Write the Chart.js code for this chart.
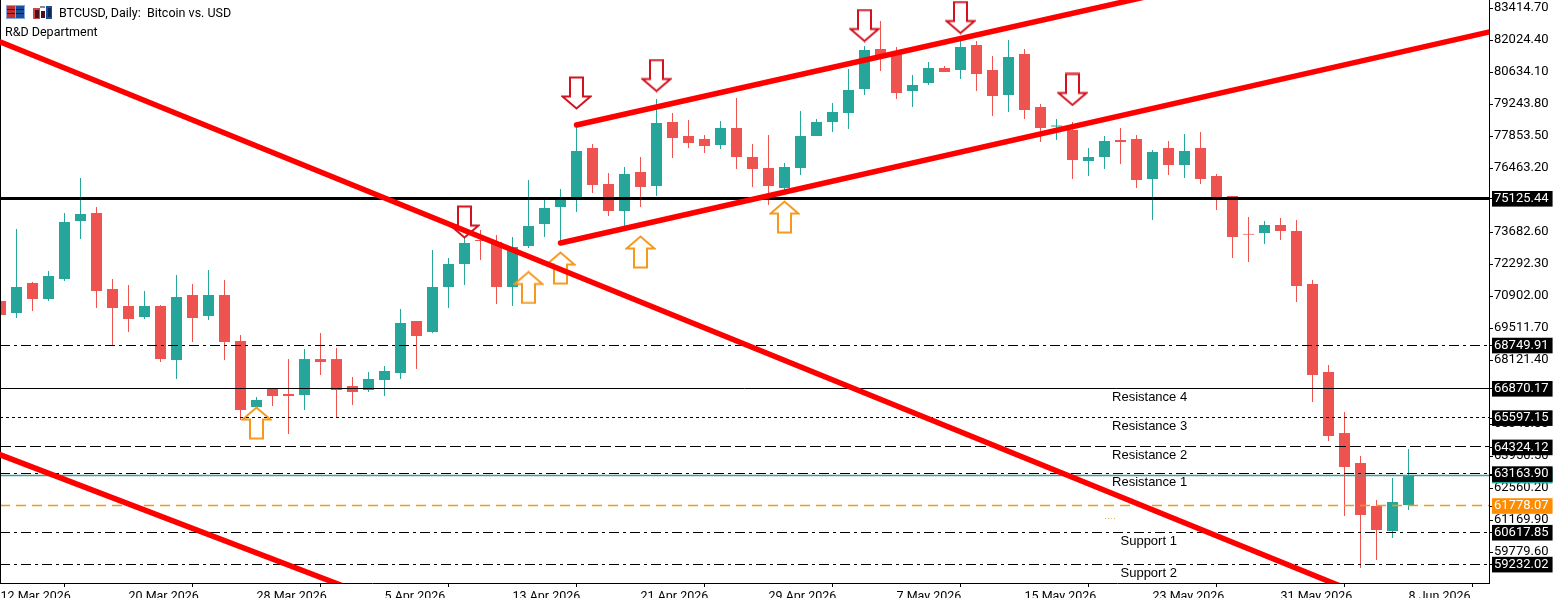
<!DOCTYPE html>
<html>
<head>
<meta charset="utf-8">
<title>BTCUSD, Daily</title>
<script src="https://cdn.jsdelivr.net/npm/chart.js@4/dist/chart.umd.js"></script>
<style>
  html, body { margin: 0; padding: 0; background: #fff; overflow: hidden; }
  canvas { display: block; }
</style>
</head>
<body>
<canvas id="myChart" width="1560" height="598"></canvas>
<script>
// daily candles, one entry per day starting 12 Mar 2026
const opens = [70684,70163,71467,70771,71640,74161,74508,71206,70467,69989,70467,68121,70945,70033,70945,68947,66079,66861,66644,66600,68164,68164,66991,66818,67252,67556,69816,69338,71293,72292,73335,73248,71293,73074,74031,74769,75203,77332,75768,74595,76289,75681,78462,77854,77723,77463,78201,76941,76463,75594,76463,77854,78462,78853,79896,81633,81503,79809,80156,80808,80721,81807,80721,79635,81416,79114,78266,78114,76767,76941,77680,77723,75985,77332,76594,77332,76116,75247,73600,73639,73987,73726,71423,67600,64949,63646,61778,60692,61821];
const closes = [70076,71293,70771,71771,74117,74465,71119,70380,69902,70467,68164,70858,69946,70945,68903,65949,66383,66557,66557,68164,68034,66818,66731,67296,67643,69729,69164,71293,72292,73205,73292,71293,73031,73944,74725,75073,77202,75725,74595,76203,75638,78418,77767,77549,77419,78201,76941,76420,75681,76507,77854,78462,78896,79852,81590,81286,79722,80069,80808,80634,81720,80547,79592,81286,78983,78201,78310,76811,76941,77636,77593,75942,77158,76594,77202,75985,75160,73466,73570,73987,73726,71336,67469,64819,63472,61387,60735,61952,63125];
const highs = [70815,73813,71510,71988,74508,76029,74769,71640,71380,71119,70511,71814,71423,72031,71597,69207,66514,66861,68164,68599,69294,68642,67382,67600,67860,70337,69816,72901,72553,73422,73770,73552,73466,75942,75073,75551,78331,77506,76246,76507,76941,79461,78853,78549,77897,78505,79505,77506,77897,76681,78940,78592,79287,80765,81764,82850,81720,80504,81068,80895,82111,81981,81329,82024,81633,79244,78592,78462,77332,77854,78201,77897,77245,77636,77941,78027,76203,75247,74334,74161,74291,74204,71597,67904,65862,63950,62038,62994,64254];
const lows = [70033,69946,70250,70684,71554,73379,70380,68773,69338,69902,68034,67296,68903,69859,68121,65514,66036,66122,64906,65949,67469,65645,66166,66731,66557,67296,67730,69294,70380,71380,72466,70554,70467,72987,73466,73205,74552,75377,74378,73900,74769,75247,76898,77332,77115,77289,76420,75638,74856,75421,76159,77854,78027,78158,79635,80678,79461,79114,80069,80634,80330,79809,78722,78896,78592,77593,77680,75985,76116,76420,76637,75594,74204,76159,76029,75768,74639,72553,72379,73161,73335,70641,66296,64602,61343,59084,59432,60388,61604];

const xTickBars = [0,8,16,24,32,40,48,56,64,72,80,88];
const xTickLabels = ["12 Mar 2026","20 Mar 2026","28 Mar 2026","5 Apr 2026","13 Apr 2026","21 Apr 2026","29 Apr 2026","7 May 2026","15 May 2026","23 May 2026","31 May 2026","8 Jun 2026"];
const yTickValues = [83414.70,82024.40,80634.10,79243.80,77853.50,76463.20,73682.60,72292.30,70902.00,69511.70,68121.40,65340.80,63950.50,62560.20,61169.90,59779.60];

// horizontal levels, with a price box on the axis
const levelPrices = [75125.44,68749.91,66870.17,65597.15,64324.12,63163.90,61778.07,60617.85,59232.02];
const lastPrice = 63100;

// trend lines as [bar, price, bar, price]
const trendA = [0,81937,84,58228];
const trendB = [0,63998,24,57615];
const channelTop = [36,78331,72,83966];
const channelBottom = [35,73205,94,82525];

const upArrowBars = [16,33,35,40,49];
const upArrowPrices = [65384,71272,72118,72814,74334];
const downArrowBars = [29,36,41,54,60,67];
const downArrowPrices = [74117,79722,80482,82654,83002,79874];

const noteTexts = ["Resistance 4","Resistance 3","Resistance 2","Resistance 1","Support 1","Support 2"];
const noteBars = [69.47,69.47,69.47,69.47,70,70];
const notePrices = [66514,65254,63995,62821,60258,58867];

const upColor = "#26a69a";
const downColor = "#ef5350";
const levelStyles = [
    {color: "#000", width: 3, dash: []},
    {color: "#000", width: 1, dash: [10,4,3,4]},
    {color: "#000", width: 1, dash: []},
    {color: "#000", width: 1, dash: [3,3]},
    {color: "#000", width: 1, dash: [11,4]},
    {color: "#000", width: 1, dash: [10,4,3,4]},
    {color: "#f09a10", width: 1.5, dash: [10,6]},
    {color: "#000", width: 1, dash: [10,4,3,4]},
    {color: "#000", width: 1, dash: [10,4,3,4]}
];

const xMin = -1 / 32;
const xMax = 93.03125;
const yMin = 58433.7;
const yMax = 83762.3;

function makeArrow(color, up) {
    let c = document.createElement("canvas");
    c.width = 31;
    c.height = 34;
    let g = c.getContext("2d");
    if (up) {
        g.translate(0, 34);
        g.scale(1, -1);
    }
    g.beginPath();
    g.moveTo(9, 1.5);
    g.lineTo(22, 1.5);
    g.lineTo(22, 20.5);
    g.lineTo(29.5, 20.5);
    g.lineTo(15.5, 32.5);
    g.lineTo(1.5, 20.5);
    g.lineTo(9, 20.5);
    g.closePath();
    g.fillStyle = "#fff";
    g.fill();
    g.lineWidth = 2;
    g.strokeStyle = color;
    g.stroke();
    return c;
}

function trendSet(t) {
    return {
        type: "line",
        data: [{x: t[0], y: t[1]}, {x: t[2], y: t[3]}],
        borderColor: "#ff0000",
        borderWidth: 5.5,
        borderCapStyle: "round",
        pointRadius: 0,
        order: 1
    };
}

let datasets = [
    {
        data: opens.map((o, i) => ({x: i, y: [lows[i], highs[i]]})),
        backgroundColor: opens.map((o, i) => closes[i] >= o ? upColor : downColor),
        maxBarThickness: 1,
        grouped: false,
        inflateAmount: 0,
        order: 10
    },
    {
        data: opens.map((o, i) => ({x: i, y: [o, closes[i]]})),
        backgroundColor: opens.map((o, i) => closes[i] >= o ? upColor : downColor),
        maxBarThickness: 11,
        grouped: false,
        inflateAmount: 0,
        order: 9
    },
    {
        type: "line",
        data: upArrowBars.map((b, i) => ({x: b, y: upArrowPrices[i]})),
        showLine: false,
        pointRadius: 5,
        pointStyle: makeArrow("#f39a1e", true),
        order: 8
    },
    {
        type: "line",
        data: downArrowBars.map((b, i) => ({x: b, y: downArrowPrices[i]})),
        showLine: false,
        pointRadius: 5,
        pointStyle: makeArrow("#d4121f", false),
        order: 8
    },
    {
        type: "line",
        level: true,
        data: [{x: xMin, y: lastPrice}, {x: xMax, y: lastPrice}],
        borderColor: "#3f9f95",
        borderWidth: 1.5,
        pointRadius: 0,
        order: 7
    },
    {
        type: "line",
        data: [{x: xMin, y: yMin}, {x: xMin, y: yMax}],
        borderColor: "#000",
        borderWidth: 2,
        pointRadius: 0,
        order: 2
    },
    trendSet(trendA),
    trendSet(trendB),
    trendSet(channelTop),
    trendSet(channelBottom)
];
levelPrices.forEach((p, i) => {
    datasets.push({
        type: "line",
        level: true,
        data: [{x: xMin, y: p}, {x: xMax, y: p}],
        borderColor: levelStyles[i].color,
        borderWidth: levelStyles[i].width,
        borderDash: levelStyles[i].dash,
        pointRadius: 0,
        order: 6
    });
});
// nothing may spill past the plot frame
datasets.forEach((ds) => { ds.clip = 0; });

// keeps the thin level lines on whole pixel rows
const snapLevels = {
    id: "snapLevels",
    afterDatasetsUpdate(chart) {
        chart.data.datasets.forEach((ds, i) => {
            if (!ds.level) return;
            chart.getDatasetMeta(i).data.forEach((pt) => {
                pt.y = Math.floor(pt.y - 0.5) + 0.5;
            });
        });
    }
};

function drawIcons(g) {
    g.fillStyle = "#7fa6e0";
    g.fillRect(6, 5, 19, 14);
    g.fillStyle = "#c03030";
    g.fillRect(7, 6, 8, 12);
    g.fillStyle = "#1a4f9c";
    g.fillRect(16, 6, 8, 12);
    g.fillStyle = "#40141a";
    g.fillRect(7, 9, 8, 1);
    g.fillRect(7, 13, 8, 1);
    g.fillStyle = "#0a1c44";
    g.fillRect(16, 9, 8, 1);
    g.fillRect(16, 13, 8, 1);

    g.fillStyle = "#c8484a";
    g.fillRect(33, 8, 7, 11);
    g.fillStyle = "#4a1216";
    g.fillRect(35, 10, 4, 8);
    g.fillRect(41, 11, 4, 7);
    g.fillStyle = "#8a8a8a";
    g.fillRect(40, 6, 5, 2);
    g.fillStyle = "#1a4f9c";
    g.fillRect(46, 6, 6, 13);
    g.fillStyle = "#0a2a5c";
    g.fillRect(48, 8, 3, 9);
}

const chartTexts = {
    id: "chartTexts",
    afterDraw(chart) {
        let g = chart.ctx;
        let x = chart.scales.x;
        let y = chart.scales.y;
        g.save();
        drawIcons(g);
        g.fillStyle = "#000";
        g.textBaseline = "middle";
        g.textAlign = "left";
        g.font = "12.5px Roboto";
        g.fillText("BTCUSD, Daily:  Bitcoin vs. USD", 59, 14);
        g.fillText("R&D Department", 5, 33);
        g.font = "13px 'Liberation Sans'";
        noteTexts.forEach((t, i) => {
            g.fillText(t, x.getPixelForValue(noteBars[i]), y.getPixelForValue(notePrices[i]));
        });
        g.fillStyle = "#f0b060";
        [0, 3, 6, 9].forEach((d) => g.fillRect(1105 + d, 518, 1, 1));
        g.restore();
    }
};

function isBoxed(v) {
    return levelPrices.includes(v) || v === lastPrice;
}

new Chart(document.querySelector("#myChart"), {
    type: "bar",
    data: {datasets},
    plugins: [snapLevels, chartTexts],
    options: {
        responsive: false,
        animation: false,
        events: [],
        layout: {autoPadding: false, padding: 0},
        plugins: {legend: {display: false}, tooltip: {enabled: false}, title: {display: false}},
        scales: {
            x: {
                type: "linear",
                offset: false,
                min: xMin,
                max: xMax,
                afterBuildTicks(scale) {
                    scale.ticks = xTickBars.map((value) => ({value}));
                },
                afterFit(scale) {
                    scale.height = 15;
                    scale.paddingLeft = 0;
                    scale.paddingRight = 0;
                },
                grid: {drawOnChartArea: false, tickLength: 4, tickColor: "#000", tickWidth: 1},
                border: {color: "#000", width: 1},
                ticks: {
                    autoSkip: false,
                    maxRotation: 0,
                    minRotation: 0,
                    align: "start",
                    padding: 2,
                    color: "#000",
                    font: {family: "Roboto", size: 12.5},
                    callback: (v) => xTickLabels[xTickBars.indexOf(v)]
                }
            },
            y: {
                type: "linear",
                position: "right",
                min: yMin,
                max: yMax,
                afterBuildTicks(scale) {
                    // boxed levels go last so their boxes sit over the plain labels
                    scale.ticks = yTickValues.concat([lastPrice], levelPrices).map((value) => ({value}));
                },
                afterFit(scale) {
                    scale.width = 71;
                    scale.paddingTop = 0;
                    scale.paddingBottom = 0;
                },
                grid: {drawOnChartArea: false, tickLength: 4, tickColor: "#000", tickWidth: 1},
                border: {color: "#000", width: 1},
                ticks: {
                    autoSkip: false,
                    padding: 1,
                    font: {family: "Roboto", size: 13},
                    callback: (v) => v.toFixed(2),
                    color: (ctx) => isBoxed(ctx.tick.value) ? "#fff" : "#000",
                    showLabelBackdrop: (ctx) => isBoxed(ctx.tick.value),
                    backdropColor: (ctx) => {
                        if (ctx.tick.value === lastPrice) return upColor;
                        return ctx.tick.value === 61778.07 ? "#ff8c00" : "#000";
                    },
                    backdropPadding: {top: 0, bottom: 0, left: 2, right: 4}
                }
            }
        }
    }
});
</script>
</body>
</html>
